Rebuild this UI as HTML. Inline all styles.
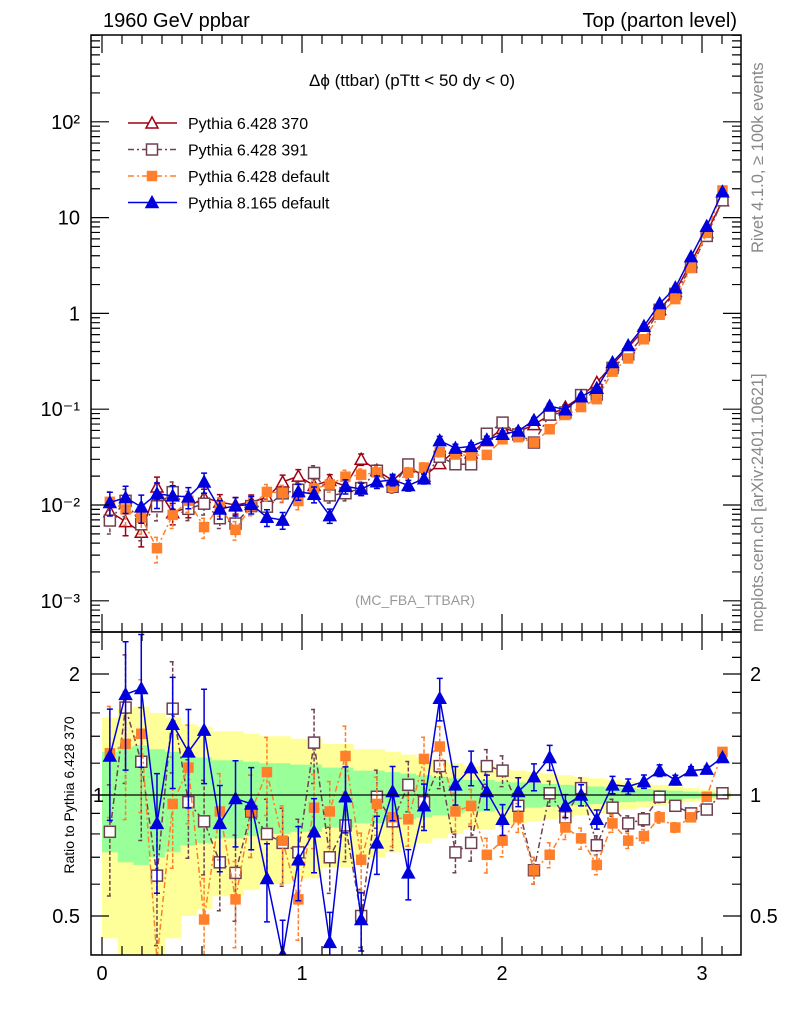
<!DOCTYPE html>
<html><head><meta charset="utf-8"><style>
html,body{margin:0;padding:0;background:#fff;width:786px;height:1024px;overflow:hidden;}
svg{display:block;font-family:"Liberation Sans",sans-serif;}
</style></head><body>
<svg id="chart" width="786" height="1024" viewBox="0 0 786 1024" xmlns="http://www.w3.org/2000/svg">
<defs>
<clipPath id="clipMain"><rect x="91" y="35" width="650" height="597"/></clipPath>
<clipPath id="clipRatio"><rect x="91" y="632" width="650" height="323"/></clipPath>
</defs>
<g id="bands" clip-path="url(#clipRatio)"></g>
<g id="grid"></g>
<g id="marksMain" clip-path="url(#clipMain)"></g>
<g id="marksRatio" clip-path="url(#clipRatio)"></g>
<g id="axes"></g>
<text x="103" y="27" font-size="20">1960 GeV ppbar</text>
<text x="737" y="27" font-size="20" text-anchor="end">Top (parton level)</text>
<text x="412" y="86" font-size="17" text-anchor="middle">Δϕ (ttbar) (pTtt &lt; 50 dy &lt; 0)</text>
<text x="415" y="605" font-size="14" fill="#999" text-anchor="middle">(MC_FBA_TTBAR)</text>
<text transform="translate(763,253) rotate(-90)" font-size="16.5" fill="#888">Rivet 4.1.0, ≥ 100k events</text>
<text transform="translate(763,632) rotate(-90)" font-size="16.5" fill="#888">mcplots.cern.ch [arXiv:2401.10621]</text>
<text transform="translate(74,795) rotate(-90)" font-size="14" text-anchor="middle">Ratio to Pythia 6.428 370</text>
<g id="legend"></g>
</svg>
<script>
const nBins = 40;
const xMin = 0, xMax = Math.PI;
const ref370 = [0.0085,0.0067,0.0052,0.0154,0.0083,0.0095,0.012,0.0107,0.010,0.0107,0.012,0.0174,0.020,0.016,0.018,0.0158,0.030,0.023,0.018,0.025,0.020,0.027,0.037,0.035,0.047,0.063,0.058,0.069,0.087,0.105,0.135,0.19,0.29,0.44,0.68,1.1,1.7,3.4,7.0,15.0];
const ratio391 = [0.81,1.65,1.21,0.63,1.64,0.96,0.86,0.68,0.64,0.91,0.80,0.76,0.72,1.35,0.70,0.84,0.50,0.99,0.86,1.06,0.96,1.18,0.72,0.76,1.18,1.15,0.94,0.65,1.01,0.88,1.04,0.75,0.93,0.85,0.87,0.99,0.94,0.90,0.92,1.01];
const ratioDef6 = [1.27,1.34,1.42,0.23,0.95,1.17,0.49,0.91,0.55,0.91,1.14,0.77,0.55,0.93,0.91,1.25,0.69,0.95,0.88,0.87,1.23,1.32,0.91,0.94,0.71,0.77,0.88,0.65,0.71,0.83,0.78,0.67,0.85,0.77,0.79,0.88,0.83,0.88,0.99,1.28];
const ratio8 = [1.25,1.78,1.84,0.85,1.50,1.28,1.45,0.85,0.98,0.95,0.62,0.40,0.69,0.81,0.43,0.99,0.49,0.76,1.02,0.64,0.94,1.74,1.06,1.17,1.02,0.87,1.02,1.11,1.24,0.94,1.00,0.87,1.06,1.05,1.08,1.15,1.09,1.15,1.16,1.24];
const relErr = [0.28,0.32,0.33,0.3,0.28,0.25,0.24,0.22,0.22,0.21,0.2,0.2,0.19,0.19,0.17,0.17,0.15,0.15,0.14,0.13,0.12,0.11,0.10,0.09,0.09,0.08,0.075,0.07,0.065,0.06,0.055,0.05,0.045,0.04,0.035,0.03,0.025,0.02,0.015,0.012];
const mainTickLabels = ["10\u207B\u00B3","10\u207B\u00B2","10\u207B\u00B9","1","10","10\u00B2"];
const ratioTickValues = [0.5,1,2];
const xTickValues = [0,1,2,3];

const NS="http://www.w3.org/2000/svg";
const X0=102, XS=200;
function xPix(v){return X0+v*XS;}
function yMain(v){return Math.min(640,Math.max(30,505-(Math.log10(v)+2)*95.8));}
function yRatio(v){return Math.min(960,Math.max(628,795-Math.log2(v)*121));}
function mk(tag,attrs,parent){const e=document.createElementNS(NS,tag);for(const k in attrs)e.setAttribute(k,attrs[k]);parent.appendChild(e);return e;}
const gB=document.getElementById('bands'),gM=document.getElementById('marksMain'),gR=document.getElementById('marksRatio'),gA=document.getElementById('axes'),gL=document.getElementById('legend');
const bw=(xMax-xMin)/nBins;
function center(i){return xMin+(i+0.5)*bw;}

for(let i=0;i<nBins;i++){
  const x1=xPix(xMin+i*bw),x2=xPix(xMin+(i+1)*bw),e=relErr[i];
  let r=mk('rect',{x:x1,y:yRatio(1+2*e),width:x2-x1+0.5,height:yRatio(Math.max(1-2*e,0.05))-yRatio(1+2*e),fill:'#ffff99'},gB);
  
  
  r=mk('rect',{x:x1,y:yRatio(1+e),width:x2-x1+0.5,height:yRatio(1-e)-yRatio(1+e),fill:'#99ff99'},gB);
  
  
}
let l1=mk('line',{x1:91,x2:741,y1:yRatio(1),y2:yRatio(1),stroke:'#000','stroke-width':1.2},gA);



const series=[
 {name:'Pythia 6.428 370',key:'p370',ratio:ref370.map(()=>1),color:'#a00014',dash:'',marker:'otri',err:1.0},
 {name:'Pythia 6.428 391',key:'p391',ratio:ratio391,color:'#704050',dash:'6,3,2,3',marker:'osq',err:1.1},
 {name:'Pythia 6.428 default',key:'p6def',ratio:ratioDef6,color:'#ff7f2a',dash:'6,3,2,3',marker:'fsq',err:1.1},
 {name:'Pythia 8.165 default',key:'p8def',ratio:ratio8,color:'#0000dd',dash:'',marker:'ftri',err:1.1}
];
function marker(type,cx,cy,color,parent,nm){
  let m;
  if(type.endsWith('tri')){
    m=mk('polygon',{points:`${cx},${cy-6} ${cx-6},${cy+5} ${cx+6},${cy+5}`,fill:type[0]==='f'?color:'#fff',stroke:color,'stroke-width':1.5},parent);
  }else{
    const s=type[0]==='f'?4.5:5.5;
    m=mk('rect',{x:cx-s,y:cy-s,width:2*s,height:2*s,fill:type[0]==='f'?color:'#fff',stroke:color,'stroke-width':1.5},parent);
  }
  
  
}
function drawSeries(s,parent,yf,valFn,isRatio){
  let pts=[];
  for(let i=0;i<nBins;i++){pts.push([xPix(center(i)),yf(valFn(i))]);}
  const p=mk('polyline',{points:pts.map(a=>a.join(',')).join(' '),fill:'none',stroke:s.color,'stroke-width':1.5,'stroke-dasharray':s.dash},parent);
  
  
  for(let i=0;i<nBins;i++){
    const v=valFn(i),e=relErr[i]*s.err*(isRatio?1:0.9);
    const cx=pts[i][0],yt=yf(v*(1+e)),yb=yf(Math.max(v*(1-e),1e-6));
    const eb=mk('path',{d:`M${cx},${yt}V${yb}M${cx-3},${yt}H${cx+3}M${cx-3},${yb}H${cx+3}`,stroke:s.color,'stroke-width':1.5,fill:'none','stroke-dasharray':s.dash?'4,2':''},parent);
    
    
    marker(s.marker,cx,pts[i][1],s.color,parent,s.key+(isRatio?'-ratio-point':'-point'));
  }
}
for(const s of series){drawSeries(s,gM,yMain,i=>ref370[i]*s.ratio[i],false);}
for(const s of series.slice(1)){drawSeries(s,gR,yRatio,i=>s.ratio[i],true);}

for(const [y1,y2,nm] of [[35,632,'main-frame'],[632,955,'ratio-frame']]){
  const r=mk('rect',{x:91,y:y1,width:650,height:y2-y1,fill:'none',stroke:'#000','stroke-width':1.5},gA);
  
  
}
let d='';
for(let k=0;k<=32;k++){const v=k*0.1,x=xPix(v);if(x<91||x>741)continue;const L=(k%10===0)?18:9;
  d+=`M${x},632V${632-L}M${x},35V${35+L}M${x},955V${955-L}M${x},632V${632+L}`;}
for(let dec=-4;dec<=2;dec++){for(let m=1;m<=9;m++){const v=m*Math.pow(10,dec),y=505-(Math.log10(v)+2)*95.8;if(y<35||y>632)continue;const L=m===1?18:9;
  d+=`M91,${y}H${91+L}M741,${y}H${741-L}`;}}
for(const v of [0.4,0.5,0.6,0.7,0.8,0.9,1,1.2,1.4,1.6,1.8,2,2.2,2.4]){const y=795-Math.log2(v)*121;if(y<632||y>955)continue;const L=(v===0.5||v===1||v===2)?18:9;
  d+=`M91,${y}H${91+L}M741,${y}H${741-L}`;}
const tk=mk('path',{d:d,stroke:'#000','stroke-width':1.2,fill:'none'},gA);


xTickValues.forEach(v=>{const t=mk('text',{x:xPix(v),y:980,'font-size':20,'text-anchor':'middle'},gA);t.textContent=String(v);
  
  });
mainTickLabels.forEach((lab,i)=>{const y=yMain(Math.pow(10,i-3));const t=mk('text',{x:80,y:y+7,'font-size':20,'text-anchor':'end'},gA);t.textContent=lab;
  
  });
ratioTickValues.forEach(v=>{const y=yRatio(v);
  let t=mk('text',{x:v===1?104:80,y:y+7,'font-size':20,'text-anchor':'end'},gA);t.textContent=String(v);
  
  
  t=mk('text',{x:750,y:y+7,'font-size':20},gA);t.textContent=String(v);
  
  });
series.forEach((s,i)=>{const y=123+i*26.5;
  const g=mk('g',{},gL);
  
  
  mk('line',{x1:128,x2:177,y1:y,y2:y,stroke:s.color,'stroke-width':1.5,'stroke-dasharray':s.dash},g);
  marker(s.marker,152,y,s.color,g,'legend-marker');
  const t=mk('text',{x:188,y:y+6,'font-size':16},g);t.textContent=s.name;});
</script>
</body></html>
